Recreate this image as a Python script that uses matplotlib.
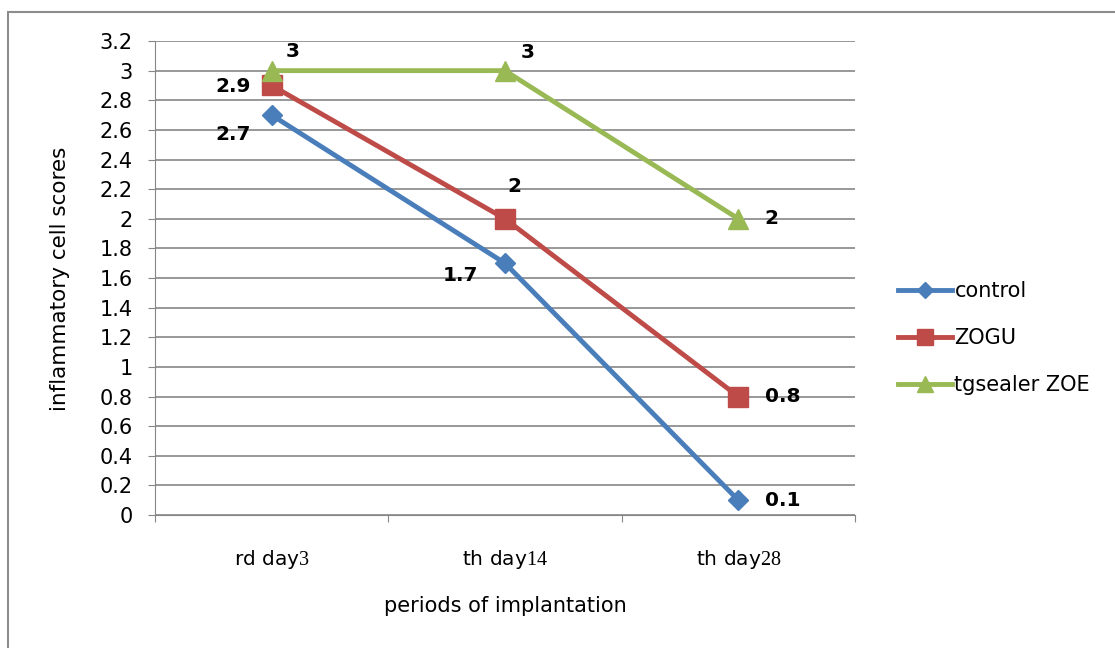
import matplotlib.pyplot as plt
from matplotlib.patches import Rectangle

# data
periods = ['rd day$\\mathrm{3}$', 'th day$\\mathrm{14}$', 'th day$\\mathrm{28}$']
control = [2.7, 1.7, 0.1]
zogu = [2.9, 2.0, 0.8]
tgsealer = [3.0, 3.0, 2.0]
series_names = ['control', 'ZOGU', 'tgsealer ZOE']

plt.rcParams['mathtext.fontset'] = 'custom'
plt.rcParams['mathtext.rm'] = 'Liberation Serif'
plt.rcParams['font.family'] = 'DejaVu Sans'

fig = plt.figure(figsize=(11.15, 6.48), dpi=100)
ax = fig.add_axes([0.139, 0.2052, 0.6278, 0.7315])

# outer chart frame (cut off at right/bottom in the reference)
fig.patches.append(Rectangle((8 / 1115, -0.1), 1.2, 1 - 12 / 648 + 0.1,
                             transform=fig.transFigure, fill=False,
                             edgecolor='#8c8c8c', linewidth=1.5))

x = range(len(periods))
ax.plot(x, control, color='#4a7ebb', lw=3.5, marker='D', ms=10, label=series_names[0], zorder=3)
ax.plot(x, zogu, color='#be4b48', lw=3.5, marker='s', ms=14, label=series_names[1], zorder=3)
ax.plot(x, tgsealer, color='#98b954', lw=3.5, marker='^', ms=14, label=series_names[2], zorder=3)

lab = dict(fontsize=14.5, fontweight='bold')
offsets_c = [(-28, -14), (-32, -9), (32, 0)]
offsets_z = [(-28, -1), (7, 23), (32, 0)]
offsets_t = [(15, 14), (16, 13), (24, 0)]
for vals, offs in ((control, offsets_c), (zogu, offsets_z), (tgsealer, offsets_t)):
    for i, (v, o) in enumerate(zip(vals, offs)):
        ax.annotate('%g' % v, (i, v), xytext=o, textcoords='offset points',
                    ha='center', va='center', **lab)

ax.set_xlim(-0.5, 2.5)
ax.set_ylim(0, 3.2)
ax.set_yticks([i * 0.2 for i in range(17)])
ax.set_yticklabels(['%g' % round(i * 0.2, 1) for i in range(17)], fontsize=15)
ax.grid(axis='y', color='#868686', lw=1.2)
ax.set_axisbelow(True)

ax.set_xticks([-0.5, 0.5, 1.5, 2.5])
ax.set_xticklabels([])
ax.set_xticks(list(x), minor=True)
ax.set_xticklabels(periods, minor=True, fontsize=14.5)
ax.tick_params(axis='x', which='minor', length=0, pad=24)
ax.tick_params(axis='x', which='major', length=5, color='#868686')
ax.tick_params(axis='y', length=5, color='#868686', pad=11)

for s in ('top', 'right'):
    ax.spines[s].set_visible(False)
for s in ('left', 'bottom'):
    ax.spines[s].set_color('#868686')

ax.set_xlabel('periods of implantation', fontsize=15, labelpad=18)
ax.set_ylabel('inflammatory cell scores', fontsize=15.5)
ax.yaxis.set_label_coords(-0.121, 0.498)

ax.legend(loc='center left', bbox_to_anchor=(1.035, 0.373), frameon=False,
          prop={'size': 15}, handlelength=2.6, handletextpad=0.1,
          labelspacing=1.3, markerscale=0.8)

fig.savefig('out.png', dpi=100)
